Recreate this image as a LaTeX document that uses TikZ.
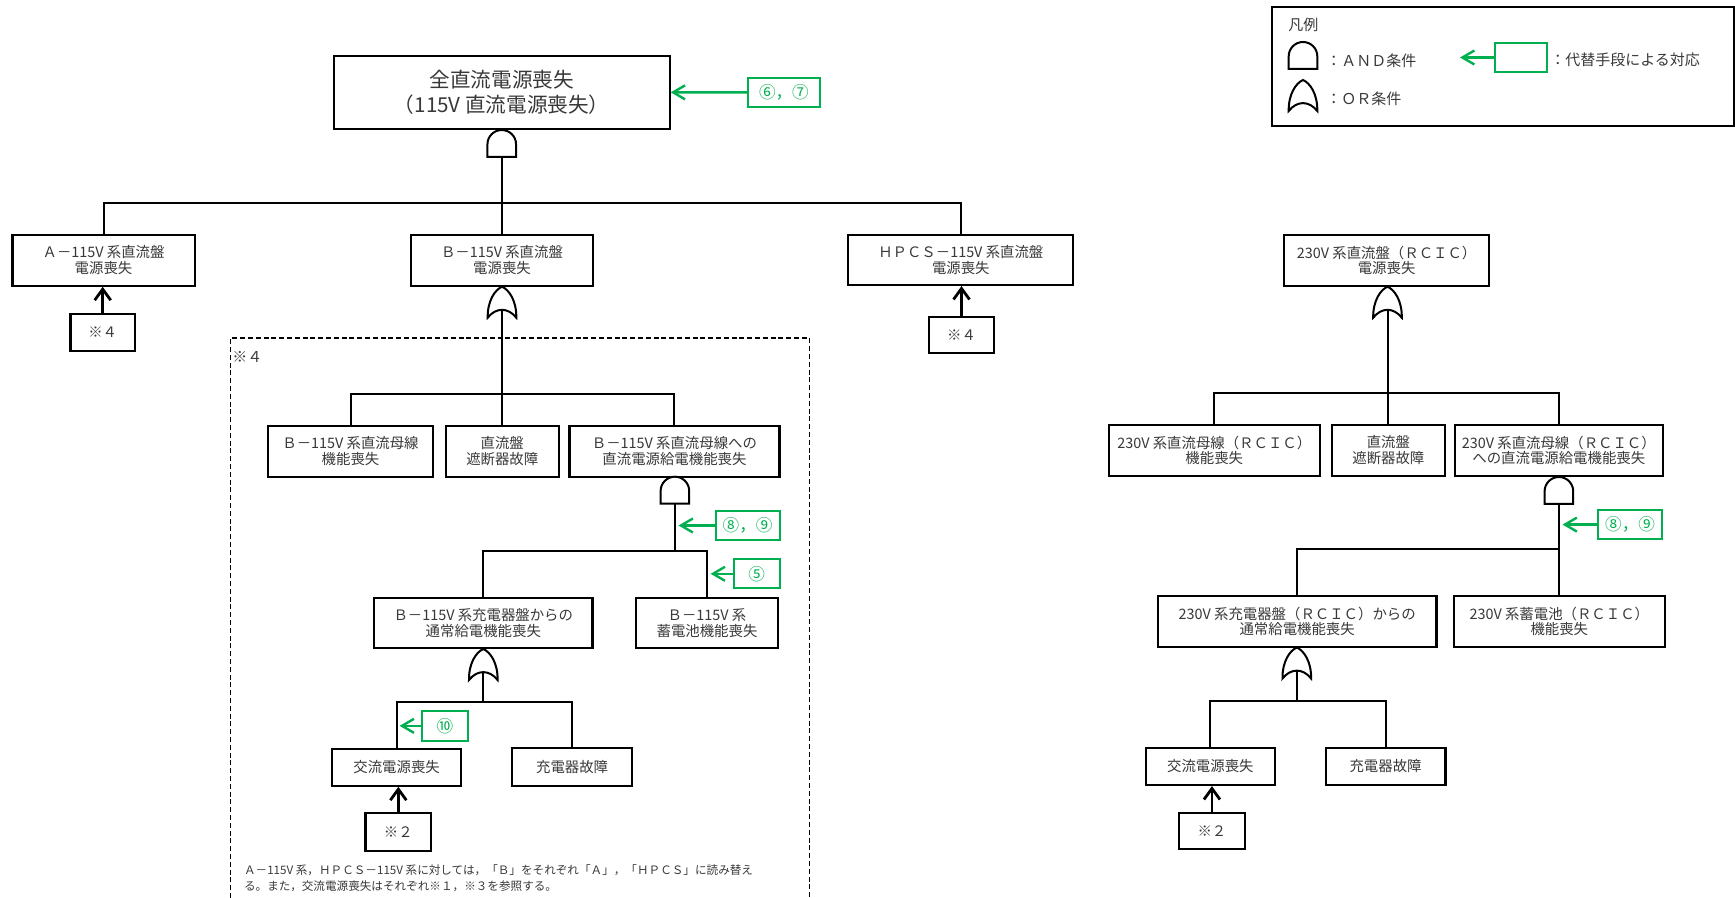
\documentclass[tikz,border=0pt]{standalone}
\usepackage{fontspec}
\setmainfont{Noto Sans CJK JP}
\usetikzlibrary{arrows.meta}

\definecolor{altgreen}{RGB}{0,176,80}
\definecolor{ink}{gray}{0.22}

\newcommand{\ftBig}{\fontsize{10.3}{12.5}\selectfont}
\newcommand{\ftBox}{\fontsize{7.2}{7.9}\selectfont}
\newcommand{\ftLeg}{\fontsize{7.5}{8}\selectfont}
\newcommand{\ftTag}{\fontsize{8.3}{9}\selectfont}
\newcommand{\ftNote}{\fontsize{5.8}{7}\selectfont}

\tikzset{
  sz/.style 2 args={minimum width=#1*0.5pt, minimum height=#2*0.5pt},
  box/.style={draw=black, line width=1.1pt, fill=white, inner sep=0pt,
              align=center, text=ink, font=\ftBox},
  tag/.style={draw=altgreen, line width=1pt, fill=white, inner sep=0pt,
              text=altgreen, font=\ftTag},
  plain/.style={inner sep=0pt, text=ink},
  wire/.style={draw=black, line width=1pt},
  gateline/.style={draw=black, line width=1pt, fill=white},
  blackarrow/.style={draw=black, line width=1.4pt,
                     -{Straight Barb[length=5.5pt,width=8pt]}},
  greenarrow/.style={draw=altgreen, line width=1.2pt,
                     -{Straight Barb[length=6pt,width=7pt]}},
  dashbox/.style={draw=black, line width=0.8pt, dash pattern=on 2.5pt off 1.4pt},
  % AND gate: flat bottom, round top; origin at the top centre
  andg/.pic={
    \draw[gateline] (-14.3,27) -- (-14.3,14.3)
      .. controls (-14.3,6.4) and (-7.9,0) .. (0,0)
      .. controls (7.9,0) and (14.3,6.4) .. (14.3,14.3)
      -- (14.3,27) -- cycle;
    \coordinate (-in) at (0,27);
  },
  % OR gate: pointed top, hollow bottom; origin at the top point
  org/.pic={
    \draw[gateline] (-14.3,31)
      .. controls (-14.6,14) and (-7,3) .. (0,0)
      .. controls (7,3) and (14.6,14) .. (14.3,31)
      .. controls (6,20.5) and (-6,20.5) .. (-14.3,31) -- cycle;
    \coordinate (-in) at (0,23.3);
  }
}

\begin{document}
\begin{tikzpicture}[x=0.5pt,y=-0.5pt]
\useasboundingbox (0,0) rectangle (1735,898);

% ---------------- legend ----------------
\node[draw=black, line width=1pt, inner sep=0pt, sz={461.2}{118.7}] (LG) at (1502.9,66.65) {};
\node[plain, font=\ftLeg, anchor=west] (L0) at (1288,25) {凡例};
\pic (lgA) at (1303,42) {andg};
\pic (lgO) at (1303,80) {org};
\node[plain, font=\ftLeg, anchor=west] (L1) at (1326,61) {：ＡＮＤ条件};
\node[plain, font=\ftLeg, anchor=west] (L2) at (1326,99) {：ＯＲ条件};
\node[tag, sz={52.3}{28.4}] (GL) at (1521.15,57.5) {};
\coordinate (tLeg) at (1460,57.5);
\draw[greenarrow] (GL.west) -- (tLeg);
\node[plain, font=\ftLeg, anchor=west] (L3) at (1550,60) {：代替手段による対応};

% ---------------- 115V tree ----------------
\node[box, sz={335.7}{73.3}, font=\ftBig] (top) at (501.75,92.35)
  {全直流電源喪失\\（115V 直流電源喪失）};
\pic (gT) at (501.75,130) {andg};
\node[tag, sz={71.4}{29.6}] (G67) at (783.9,92.4) {⑥，⑦};
\draw[greenarrow] (G67.west) -- (top.east);

\node[box, sz={182.1}{50.7}] (A) at (103.55,260.35) {Ａ－115V 系直流盤\\電源喪失};
\node[box, sz={181.6}{50.7}] (B) at (502,260.35) {Ｂ－115V 系直流盤\\電源喪失};
\node[box, sz={225}{50}] (H) at (960.8,260) {ＨＰＣＳ－115V 系直流盤\\電源喪失};
\coordinate (busT) at (0,202.7);
\draw[wire] (gT-in) -- (gT-in |- B.north);
\draw[wire] (A.north) -- (A.north |- busT) -- (H.north |- busT) -- (H.north);

\node[box, sz={64.6}{36.4}] (A4) at (102.7,332.5) {※４};
\node[box, sz={65}{36.6}] (H4) at (961.5,335) {※４};
\draw[blackarrow] (A4.north) -- (A4.north |- A.south);
\draw[blackarrow] (H4.north) -- (H4.north |- H.south);

% dashed frame of the B line
\draw[dashbox] (230.4,898) -- (230.4,338.3) -- (809.4,338.3) -- (809.4,898);
\node[plain, font=\ftLeg, anchor=west] (N4) at (232,356.7) {※４};

\pic (gB) at (502,286.7) {org};
\node[box, sz={165.4}{51}] (B1) at (350.5,451.2) {Ｂ－115V 系直流母線\\機能喪失};
\node[box, sz={112.9}{51}] (B2) at (502.25,451.2) {直流盤\\遮断器故障};
\node[box, sz={210.1}{51}] (B3) at (674.45,451.2) {Ｂ－115V 系直流母線への\\直流電源給電機能喪失};
\coordinate (busB) at (0,394.3);
\draw[wire] (gB-in) -- (gB-in |- B2.north);
\draw[wire] (B1.north) -- (B1.north |- busB) -- (B3.north |- busB) -- (B3.north);

\pic (gB3) at (674.9,476.7) {andg};
\node[box, sz={218.2}{50}] (BC) at (483.3,623.3) {Ｂ－115V 系充電器盤からの\\通常給電機能喪失};
\node[box, sz={142}{50}] (BB) at (707,623.3) {Ｂ－115V 系\\蓄電池機能喪失};
\coordinate (busB3) at (0,550.7);
\draw[wire] (gB3-in) -- (gB3-in |- busB3);
\draw[wire] (BC.north) -- (BC.north |- busB3) -- (BB.north |- busB3) -- (BB.north);

\node[tag, sz={63.9}{29}] (G89a) at (747.55,525.5) {⑧，⑨};
\coordinate (t89a) at (678.5,525.5);
\draw[greenarrow] (G89a.west) -- (t89a);
\node[tag, sz={45.9}{29}] (G5) at (756.55,573.8) {⑤};
\coordinate (t5) at (710.6,573.8);
\draw[greenarrow] (G5.west) -- (t5);

\pic (gBC) at (483.3,649) {org};
\node[box, sz={129}{36.7}] (BAC) at (396.6,767.35) {交流電源喪失};
\node[box, sz={120.2}{37.4}] (BCF) at (572.1,767) {充電器故障};
\coordinate (busBC) at (0,701.7);
\draw[wire] (gBC-in) -- (gBC-in |- busBC);
\draw[wire] (BAC.north) -- (BAC.north |- busBC) -- (BCF.north |- busBC) -- (BCF.north);

\node[tag, sz={46}{29.7}] (G10) at (445,725.85) {⑩};
\coordinate (t10) at (399.6,725.85);
\draw[greenarrow] (G10.west) -- (t10);

\node[box, sz={65.9}{37.4}] (B2s) at (398.35,832) {※２};
\draw[blackarrow] (B2s.north) -- (B2s.north |- BAC.south);

\node[plain, font=\ftNote, anchor=west] (N1) at (243.7,870)
  {Ａ－115V 系，ＨＰＣＳ－115V 系に対しては，「Ｂ」をそれぞれ「Ａ」，「ＨＰＣＳ」に読み替え};
\node[plain, font=\ftNote, anchor=west] (N2) at (243.7,886.7)
  {る。また，交流電源喪失はそれぞれ※１，※３を参照する。};

% ---------------- 230V (RCIC) tree ----------------
\node[box, sz={205.4}{50.7}] (R) at (1386.6,260.35) {230V 系直流盤（ＲＣＩＣ）\\電源喪失};
\pic (gR) at (1387.5,286.7) {org};
\node[box, sz={210.7}{50.8}] (R1) at (1214.25,450.4) {230V 系直流母線（ＲＣＩＣ）\\機能喪失};
\node[box, sz={112.5}{50.8}] (R2) at (1388.35,450.4) {直流盤\\遮断器故障};
\node[box, sz={208.4}{50.8}] (R3) at (1558.8,450.4) {230V 系直流母線（ＲＣＩＣ）\\への直流電源給電機能喪失};
\coordinate (busR) at (0,392.7);
\draw[wire] (gR-in) -- (gR-in |- R2.north);
\draw[wire] (R1.north) -- (R1.north |- busR) -- (R3.north |- busR) -- (R3.north);

\pic (gR3) at (1558.9,477) {andg};
\node[box, sz={278.5}{50.7}] (RC) at (1297.15,621.35) {230V 系充電器盤（ＲＣＩＣ）からの\\通常給電機能喪失};
\node[box, sz={211.4}{50.7}] (RB) at (1559.3,621.35) {230V 系蓄電池（ＲＣＩＣ）\\機能喪失};
\coordinate (busR3) at (0,549);
\draw[wire] (gR3-in) -- (gR3-in |- RB.north);
\draw[wire] (RC.north) -- (RC.north |- busR3) -- (gR3-in |- busR3);

\node[tag, sz={63.8}{29.3}] (G89b) at (1630.1,524.6) {⑧，⑨};
\coordinate (t89b) at (1562.5,524.6);
\draw[greenarrow] (G89b.west) -- (t89b);

\pic (gRC) at (1296.8,647.5) {org};
\node[box, sz={129.3}{37.3}] (RAC) at (1210.35,766.35) {交流電源喪失};
\node[box, sz={119.7}{37.3}] (RCF) at (1385.55,766.35) {充電器故障};
\coordinate (busRC) at (0,700.7);
\draw[wire] (gRC-in) -- (gRC-in |- busRC);
\draw[wire] (RAC.north) -- (RAC.north |- busRC) -- (RCF.north |- busRC) -- (RCF.north);

\node[box, sz={65.3}{36.6}] (R2s) at (1211.95,831) {※２};
\draw[blackarrow] (R2s.north) -- (R2s.north |- RAC.south);
\end{tikzpicture}
\end{document}
